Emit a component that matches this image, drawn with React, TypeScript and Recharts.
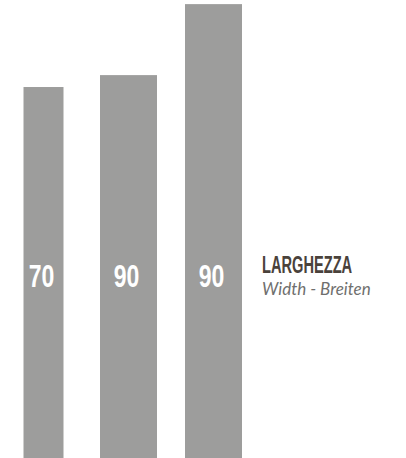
import React from "react";
import { BarChart, Bar, XAxis, YAxis, LabelList } from "recharts";

// ---- data ----
const categories = ["Modello A", "Modello B", "Modello C"];
const heightValues = [81, 83.6, 99.1];
const widthLabels = ["70", "90", "90"];

const TITLE = "LARGHEZZA";
const SUBTITLE = "Width - Breiten";

// ---- styles ----
const BAR_COLOR = "#9d9d9c";
const BAR_PIXEL_WIDTHS = [40, 57, 57];
const BOLD_FONT = "'Liberation Sans', Arial, sans-serif";

const data = categories.map((c, i) => ({
  name: c,
  value: heightValues[i],
  label: widthLabels[i],
  idx: i,
}));

const BarShape = (props: any) => {
  const { x, y, width, height, payload } = props;
  const cx = x + width / 2;
  const w = BAR_PIXEL_WIDTHS[payload.idx] ?? width;
  return <rect x={cx - w / 2} y={y} width={w} height={height} fill={BAR_COLOR} />;
};

const NumLabel = (props: any) => {
  const { x, y, width, height, value } = props;
  const cx = x + width / 2 - 2;
  const bottom = y + height;
  return (
    <text
      x={0}
      y={0}
      transform={`translate(${cx} ${bottom - 171}) scale(0.72 1)`}
      textAnchor="middle"
      fill="#ffffff"
      fontFamily={BOLD_FONT}
      fontWeight={700}
      fontSize={32}
    >
      {value}
    </text>
  );
};

export default function App() {
  return (
    <div style={{ position: "absolute", left: 0, top: 0, width: 406, height: 458, background: "#fff" }}>
      <BarChart
        width={406}
        height={458}
        data={data}
        margin={{ top: 0, right: 150, bottom: 0, left: 1 }}
      >
        <XAxis dataKey="name" hide />
        <YAxis hide domain={[0, 100]} />
        <Bar dataKey="value" shape={<BarShape />} isAnimationActive={false}>
          <LabelList dataKey="label" content={<NumLabel />} />
        </Bar>
      </BarChart>
      <svg
        width={406}
        height={458}
        style={{ position: "absolute", left: 0, top: 0, pointerEvents: "none" }}
      >
        <text
          x={0}
          y={0}
          transform="translate(262 273) scale(0.61 1)"
          fill="#4a423b"
          fontFamily={BOLD_FONT}
          fontWeight={700}
          fontSize={24}
        >
          {TITLE}
        </text>
        <text
          x={262}
          y={295}
          fill="#6f6f6e"
          fontFamily="Lato, 'Open Sans', sans-serif"
          fontStyle="italic"
          fontSize={17}
        >
          {SUBTITLE}
        </text>
      </svg>
    </div>
  );
}
